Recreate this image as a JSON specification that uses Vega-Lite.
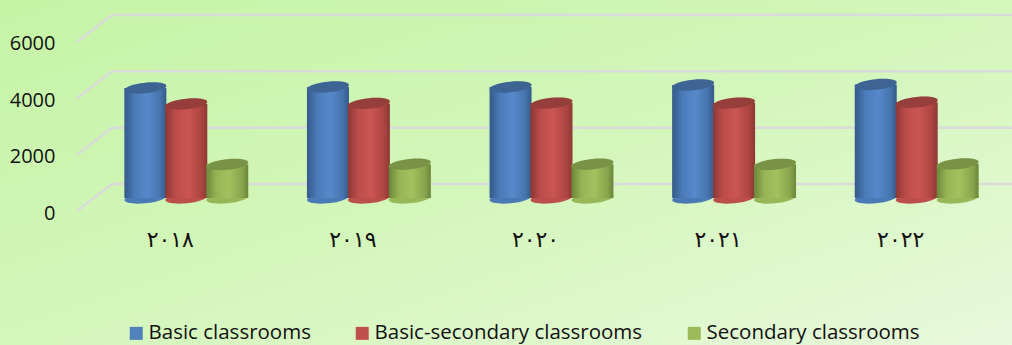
{
"$schema":"https://vega.github.io/schema/vega-lite/v6.json",
"width":1012,"height":345,"padding":0,"autosize":{"type":"none"},
"background":"#d6f6bd",
"view":{"stroke":null,"fill":{"gradient":"linear","x1":0,"y1":0,"x2":1,"y2":1,"stops":[{"offset":0,"color":"#c5f4a6"},{"offset":0.5,"color":"#d3f6ba"},{"offset":1,"color":"#e8f9dc"}]}},
"config":{"font":"Open Sans"},
"datasets":{
"classrooms":[
{"year":"٢٠١٨","series":"Basic classrooms","count":3905},
{"year":"٢٠١٨","series":"Basic-secondary classrooms","count":3337},
{"year":"٢٠١٨","series":"Secondary classrooms","count":1190},
{"year":"٢٠١٩","series":"Basic classrooms","count":3940},
{"year":"٢٠١٩","series":"Basic-secondary classrooms","count":3355},
{"year":"٢٠١٩","series":"Secondary classrooms","count":1200},
{"year":"٢٠٢٠","series":"Basic classrooms","count":3940},
{"year":"٢٠٢٠","series":"Basic-secondary classrooms","count":3370},
{"year":"٢٠٢٠","series":"Secondary classrooms","count":1200},
{"year":"٢٠٢١","series":"Basic classrooms","count":4010},
{"year":"٢٠٢١","series":"Basic-secondary classrooms","count":3370},
{"year":"٢٠٢١","series":"Secondary classrooms","count":1195},
{"year":"٢٠٢٢","series":"Basic classrooms","count":4030},
{"year":"٢٠٢٢","series":"Basic-secondary classrooms","count":3400},
{"year":"٢٠٢٢","series":"Secondary classrooms","count":1207}
],
"walls":[
{"level":0,"px":77,"depth":0},{"level":0,"px":112,"depth":958},{"level":0,"px":1012,"depth":958},
{"level":2000,"px":77,"depth":2000},{"level":2000,"px":112,"depth":2958},{"level":2000,"px":1012,"depth":2958},
{"level":4000,"px":77,"depth":4000},{"level":4000,"px":112,"depth":4958},{"level":4000,"px":1012,"depth":4958},
{"level":6000,"px":77,"depth":6000},{"level":6000,"px":112,"depth":6958},{"level":6000,"px":1012,"depth":6958}
]},
"resolve":{"scale":{"x":"independent","y":"independent"},"axis":{"x":"independent","y":"independent"}},
"layer":[
{"data":{"name":"walls"},
 "mark":{"type":"line","color":"#dadada","strokeWidth":2.5},
 "encoding":{
  "x":{"field":"px","type":"quantitative","axis":null,"scale":{"domain":[0,1012],"range":[0,1012],"nice":false,"zero":false}},
  "y":{"field":"depth","type":"quantitative","scale":{"domain":[-4757,7491],"range":[345,0],"nice":false,"zero":false},
   "axis":{"title":null,"values":[0,2000,4000,6000],"format":"d","orient":"left","offset":-55,"domain":false,"ticks":false,"grid":false,"labelPadding":0,"labelOffset":2,"labelFont":"Open Sans","labelFontSize":20,"labelColor":"#111111"}},
  "detail":{"field":"level"},
  "order":{"field":"px"}
 }},
{"data":{"name":"classrooms"},
 "encoding":{
  "x":{"field":"year","type":"nominal","sort":null,"scale":{"type":"band","range":[95,1008],"paddingInner":0,"paddingOuter":0},
   "axis":{"title":null,"orient":"bottom","offset":-106,"domain":false,"ticks":false,"labelAngle":0,"labelPadding":0,"labelOffset":-16,"labelFont":"DejaVu Sans","labelFontSize":22,"labelColor":"#111111","labelBaseline":"middle"}},
  "xOffset":{"field":"series","type":"nominal","sort":null,"scale":{"domain":["Basic classrooms","Basic-secondary classrooms","Secondary classrooms"],"paddingInner":0,"paddingOuter":0.73}},
  "y":{"field":"count","type":"quantitative","stack":null,"axis":null,"scale":{"domain":[-5218,7029],"range":[345,0],"nice":false,"zero":false}}
 },
 "layer":[
  {"transform":[{"filter":"datum.series==='Basic classrooms'"}],"encoding":{"y":{"datum":0,"type":"quantitative"}},
   "mark":{"type":"point","filled":true,"opacity":1,"size":1764,"shape":"M-1,0.1A1,0.25,-6,1,1,1,-0.1A1,0.25,-6,1,1,-1,0.1Z","fill":"#4a7ab5"}},
  {"transform":[{"filter":"datum.series==='Basic classrooms'"}],
   "mark":{"type":"bar","size":42,"fill":{"gradient":"linear","x1":0,"y1":0,"x2":1,"y2":0,"stops":[{"offset":0,"color":"#345a8a"},{"offset":0.25,"color":"#4b7bb8"},{"offset":0.55,"color":"#5689cc"},{"offset":0.85,"color":"#4674ad"},{"offset":1,"color":"#345a8a"}]}}},
  {"transform":[{"filter":"datum.series==='Basic classrooms'"}],
   "mark":{"type":"point","filled":true,"opacity":1,"size":1764,"shape":"M-1,0.1A1,0.25,-6,1,1,1,-0.1A1,0.25,-6,1,1,-1,0.1Z"},
   "encoding":{"color":{"field":"series","type":"nominal","scale":{"domain":["Basic classrooms","Basic-secondary classrooms","Secondary classrooms"],"range":["#4f81bd","#c0504d","#9bbb59"]},
    "legend":{"title":null,"orient":"none","legendX":126,"legendY":323,"direction":"horizontal","columns":3,"columnPadding":41,"symbolType":"square","symbolSize":169,"symbolStrokeWidth":0,"labelFont":"Open Sans","labelFontSize":20.5,"labelColor":"#111111","labelOffset":2,"labelLimit":0,"padding":0}}}},
  {"transform":[{"filter":"datum.series==='Basic classrooms'"}],
   "mark":{"type":"point","filled":true,"size":1764,"shape":"M-1,0.1A1,0.25,-6,1,1,1,-0.1A1,0.25,-6,1,1,-1,0.1Z","fill":"#000000","opacity":0.22}},

  {"transform":[{"filter":"datum.series==='Basic-secondary classrooms'"}],"encoding":{"y":{"datum":0,"type":"quantitative"}},
   "mark":{"type":"point","filled":true,"opacity":1,"size":1764,"shape":"M-1,0.1A1,0.25,-6,1,1,1,-0.1A1,0.25,-6,1,1,-1,0.1Z","fill":"#bc4e4b"}},
  {"transform":[{"filter":"datum.series==='Basic-secondary classrooms'"}],
   "mark":{"type":"bar","size":42,"fill":{"gradient":"linear","x1":0,"y1":0,"x2":1,"y2":0,"stops":[{"offset":0,"color":"#8c3836"},{"offset":0.25,"color":"#bd4d4a"},{"offset":0.55,"color":"#cb5552"},{"offset":0.85,"color":"#ad4542"},{"offset":1,"color":"#8c3836"}]}}},
  {"transform":[{"filter":"datum.series==='Basic-secondary classrooms'"}],
   "mark":{"type":"point","filled":true,"opacity":1,"size":1764,"shape":"M-1,0.1A1,0.25,-6,1,1,1,-0.1A1,0.25,-6,1,1,-1,0.1Z"},
   "encoding":{"color":{"field":"series","type":"nominal"}}},
  {"transform":[{"filter":"datum.series==='Basic-secondary classrooms'"}],
   "mark":{"type":"point","filled":true,"size":1764,"shape":"M-1,0.1A1,0.25,-6,1,1,1,-0.1A1,0.25,-6,1,1,-1,0.1Z","fill":"#000000","opacity":0.22}},

  {"transform":[{"filter":"datum.series==='Secondary classrooms'"}],"encoding":{"y":{"datum":0,"type":"quantitative"}},
   "mark":{"type":"point","filled":true,"opacity":1,"size":1764,"shape":"M-1,0.1A1,0.25,-6,1,1,1,-0.1A1,0.25,-6,1,1,-1,0.1Z","fill":"#98b857"}},
  {"transform":[{"filter":"datum.series==='Secondary classrooms'"}],
   "mark":{"type":"bar","size":42,"fill":{"gradient":"linear","x1":0,"y1":0,"x2":1,"y2":0,"stops":[{"offset":0,"color":"#6c8638"},{"offset":0.25,"color":"#96b656"},{"offset":0.55,"color":"#a1c25d"},{"offset":0.85,"color":"#88a64e"},{"offset":1,"color":"#6c8638"}]}}},
  {"transform":[{"filter":"datum.series==='Secondary classrooms'"}],
   "mark":{"type":"point","filled":true,"opacity":1,"size":1764,"shape":"M-1,0.1A1,0.25,-6,1,1,1,-0.1A1,0.25,-6,1,1,-1,0.1Z"},
   "encoding":{"color":{"field":"series","type":"nominal"}}},
  {"transform":[{"filter":"datum.series==='Secondary classrooms'"}],
   "mark":{"type":"point","filled":true,"size":1764,"shape":"M-1,0.1A1,0.25,-6,1,1,1,-0.1A1,0.25,-6,1,1,-1,0.1Z","fill":"#000000","opacity":0.22}}
 ]}
]}
